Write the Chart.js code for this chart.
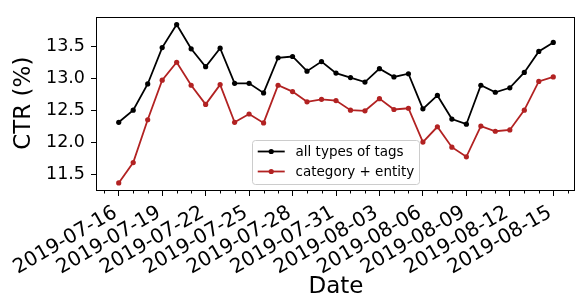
<!DOCTYPE html>
<html>
<head>
<meta charset="utf-8">
<script src="https://cdn.jsdelivr.net/npm/chart.js@4/dist/chart.umd.min.js"></script>
<style>
  html, body { margin: 0; padding: 0; background: #fff; }
</style>
</head>
<body>
<canvas id="myChart" width="579" height="301"></canvas>
<script>
// data
const dates = [
  "2019-07-16", "2019-07-17", "2019-07-18", "2019-07-19", "2019-07-20", "2019-07-21",
  "2019-07-22", "2019-07-23", "2019-07-24", "2019-07-25", "2019-07-26", "2019-07-27",
  "2019-07-28", "2019-07-29", "2019-07-30", "2019-07-31", "2019-08-01", "2019-08-02",
  "2019-08-03", "2019-08-04", "2019-08-05", "2019-08-06", "2019-08-07", "2019-08-08",
  "2019-08-09", "2019-08-10", "2019-08-11", "2019-08-12", "2019-08-13", "2019-08-14",
  "2019-08-15",
];
const allTypesOfTags = [
  12.32, 12.51, 12.92, 13.49, 13.85, 13.47, 13.19, 13.48, 12.93, 12.93, 12.78,
  13.33, 13.35, 13.12, 13.27, 13.09, 13.02, 12.95, 13.16, 13.03, 13.08, 12.53,
  12.74, 12.37, 12.29, 12.90, 12.79, 12.86, 13.10, 13.43, 13.57,
];
const categoryEntity = [
  11.37, 11.69, 12.36, 12.98, 13.26, 12.90, 12.60, 12.91, 12.32, 12.45, 12.31,
  12.90, 12.80, 12.64, 12.68, 12.66, 12.51, 12.50, 12.69, 12.52, 12.54, 12.01,
  12.25, 11.93, 11.78, 12.26, 12.18, 12.20, 12.51, 12.96, 13.03,
];
const xTickLabels = [
  "2019-07-16", "2019-07-19", "2019-07-22", "2019-07-25", "2019-07-28", "2019-07-31",
  "2019-08-03", "2019-08-06", "2019-08-09", "2019-08-12", "2019-08-15",
];
const yTickValues = [11.5, 12.0, 12.5, 13.0, 13.5];

const FONT = "DejaVu Sans";

const toPoints = (arr) => arr.map((v, i) => ({ x: i, y: v }));

// plugins: box around the axes, minor day ticks, legend in lower center
const framePlugin = {
  id: "frame",
  afterDatasetsDraw(chart) {
    const { ctx, chartArea: a, scales } = chart;
    ctx.save();
    ctx.strokeStyle = "#000";
    ctx.lineWidth = 1;
    ctx.strokeRect(Math.round(a.left) - 0.5, Math.round(a.top) + 0.5,
      Math.round(a.right - a.left), Math.round(a.bottom - a.top) - 1);

    // minor ticks, one per day
    const x = scales.x;
    const majors = xTickLabels.map((l) => dates.indexOf(l));
    for (let d = Math.ceil(x.min); d <= Math.floor(x.max); d++) {
      if (majors.includes(d)) continue;
      const px = Math.round(x.getPixelForValue(d)) + 0.5;
      ctx.beginPath();
      ctx.moveTo(px, Math.round(a.bottom));
      ctx.lineTo(px, Math.round(a.bottom) + 3.5);
      ctx.stroke();
    }
    ctx.restore();
  },
};

const legendPlugin = {
  id: "boxLegend",
  afterDraw(chart) {
    const { ctx, chartArea: a } = chart;
    const fs = 13.5;
    ctx.save();
    ctx.font = `${fs}px "${FONT}"`;
    const sets = chart.data.datasets;
    const textW = Math.max(...sets.map((s) => ctx.measureText(s.label).width));
    const pad = 5.4, handle = 27, gap = 10.8, rowH = 20;
    const w = pad + handle + gap + textW + pad;
    const h = rowH * sets.length + 4;
    const left = (a.left + a.right) / 2 - w / 2;
    const bottom = a.bottom - 6.5;
    const top = bottom - h;

    ctx.beginPath();
    ctx.roundRect(Math.round(left) + 0.5, Math.round(top) + 0.5, Math.round(w), Math.round(h), 3);
    ctx.fillStyle = "rgba(255,255,255,0.8)";
    ctx.fill();
    ctx.strokeStyle = "#cccccc";
    ctx.lineWidth = 1;
    ctx.stroke();

    sets.forEach((s, i) => {
      const cy = top + 12 + i * rowH;
      const hx = left + pad;
      ctx.strokeStyle = s.borderColor;
      ctx.lineWidth = s.borderWidth;
      ctx.beginPath();
      ctx.moveTo(hx, cy);
      ctx.lineTo(hx + handle, cy);
      ctx.stroke();
      ctx.fillStyle = s.borderColor;
      ctx.beginPath();
      ctx.arc(hx + handle / 2, cy, s.pointRadius, 0, Math.PI * 2);
      ctx.fill();
      ctx.fillStyle = "#000";
      ctx.textAlign = "left";
      ctx.textBaseline = "middle";
      ctx.fillText(s.label, hx + handle + gap, cy + 1);
    });
    ctx.restore();
  },
};

function renderChart() {
  const ctx = document.getElementById("myChart").getContext("2d");
  new Chart(ctx, {
    type: "line",
    data: {
      datasets: [
        {
          label: "all types of tags",
          data: toPoints(allTypesOfTags),
          borderColor: "#000000",
          backgroundColor: "#000000",
          borderWidth: 1.8,
          pointRadius: 2.6,
          pointBorderWidth: 0,
          tension: 0,
        },
        {
          label: "category + entity",
          data: toPoints(categoryEntity),
          borderColor: "#b22222",
          backgroundColor: "#b22222",
          borderWidth: 1.8,
          pointRadius: 2.6,
          pointBorderWidth: 0,
          tension: 0,
        },
      ],
    },
    options: {
      responsive: false,
      animation: false,
      devicePixelRatio: 1,
      layout: { padding: { top: 9, right: 1, left: 0, bottom: 0 } },
      plugins: { legend: { display: false }, tooltip: { enabled: false } },
      scales: {
        x: {
          type: "linear",
          min: -1.5,
          max: dates.length - 1 + 1.5,
          afterBuildTicks: (scale) => {
            scale.ticks = xTickLabels.map((l) => ({ value: dates.indexOf(l) }));
          },
          afterFit: (scale) => {
            scale.height = 111;
            scale.paddingLeft = 0;
            scale.paddingRight = 0;
          },
          ticks: {
            autoSkip: false,
            minRotation: 30,
            maxRotation: 30,
            padding: 5,
            labelOffset: -3,
            color: "#000",
            font: { family: FONT, size: 20 },
            callback: (v) => dates[v],
          },
          grid: {
            drawOnChartArea: false,
            tickLength: 6,
            tickColor: "#000",
            tickWidth: 1,
          },
          border: { display: false },
          title: {
            display: true,
            text: "Date",
            color: "#000",
            font: { family: FONT, size: 23 },
            padding: { top: 0, bottom: 0 },
          },
        },
        y: {
          min: 11.26,
          max: 13.976,
          afterBuildTicks: (scale) => {
            scale.ticks = yTickValues.map((v) => ({ value: v }));
          },
          afterFit: (scale) => {
            scale.width = 97;
          },
          ticks: {
            padding: 6,
            color: "#000",
            font: { family: FONT, size: 17.5 },
            callback: (v) => v.toFixed(1),
          },
          grid: {
            drawOnChartArea: false,
            tickLength: 6,
            tickColor: "#000",
            tickWidth: 1,
          },
          border: { display: false },
          title: {
            display: true,
            text: "CTR (%)",
            color: "#000",
            font: { family: FONT, size: 23 },
            padding: { top: 10, bottom: 0 },
          },
        },
      },
    },
    plugins: [framePlugin, legendPlugin],
  });
}

renderChart();
</script>
</body>
</html>
